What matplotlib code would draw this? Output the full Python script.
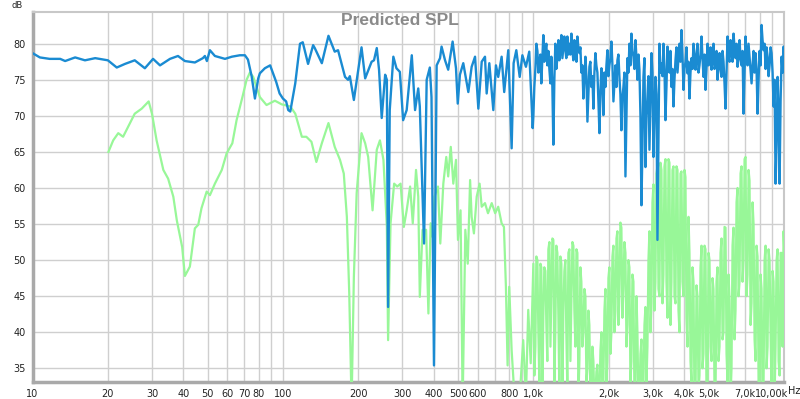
import matplotlib
matplotlib.use("Agg")
import matplotlib.pyplot as plt
import matplotlib.transforms as mtrans
import numpy as np

# --- data ----------------------------------------------------------------

# blue trace, 10 Hz .. 1 kHz
blue_lf_freq = [
    10.0, 10.7, 11.7, 12.9, 13.5, 14.8, 16.2, 17.8, 20.0, 21.7, 23.4, 25.6,
    28.1, 30.3, 32.3, 35.4, 38.1, 40.6, 44.5, 47.9, 48.8, 49.7, 51.1, 53.5,
    56.0, 58.7, 62.5, 67.3, 70.5, 72.5, 75.0, 77.3, 79.7, 80.9, 84.7, 88.9,
    94.0, 97.0, 100, 103, 105, 107, 112, 117, 120, 126, 132, 134, 143, 152,
    161, 166, 177, 182, 185, 192, 206, 213, 226, 231, 237, 242, 248, 256,
    260, 263, 267, 276, 284, 293, 302, 312, 327, 337, 347, 352, 366, 375,
    386, 392, 401, 411, 424, 430, 444, 457, 476, 491, 499, 509, 525, 550,
    567, 585, 603, 622, 641, 651, 667, 692, 709, 724, 747, 765, 794, 819,
    834, 855, 882, 904, 934, 963, 994,
]
blue_lf_db = [
    78.7, 78.1, 77.9, 77.9, 77.6, 78.1, 77.7, 78.0, 77.7, 76.7, 77.2, 77.7,
    76.6, 77.9, 77.0, 77.9, 78.3, 77.6, 77.4, 78.0, 78.3, 77.6, 79.1, 78.3,
    78.1, 77.9, 78.2, 78.4, 78.4, 77.8, 75.5, 72.4, 75.2, 75.9, 76.6, 77.0,
    74.7, 73.1, 72.4, 72.0, 70.8, 70.6, 74.5, 80.0, 80.2, 77.2, 79.8, 79.4,
    77.3, 81.1, 78.9, 79.1, 75.4, 75.0, 75.5, 72.2, 79.5, 75.2, 77.5, 77.7,
    79.4, 76.4, 69.7, 75.7, 75.0, 43.5, 70.8, 78.2, 76.6, 76.1, 69.4, 70.8,
    78.4, 70.8, 73.8, 71.3, 52.3, 75.0, 76.7, 72.6, 35.4, 77.0, 78.0, 79.6,
    77.7, 76.4, 80.3, 76.6, 71.7, 75.7, 77.3, 73.3, 76.8, 78.2, 71.0, 77.5,
    78.2, 73.1, 77.3, 70.8, 77.0, 75.4, 78.2, 73.3, 79.1, 65.5, 77.3, 79.1,
    75.4, 78.4, 76.8, 78.9, 68.3,
]

# green trace, 20 Hz .. 1 kHz
green_lf_freq = [
    20.1, 21.0, 22.0, 23.0, 24.1, 25.6, 27.3, 29.1, 30.0, 31.3, 33.3, 34.8,
    36.5, 37.7, 39.6, 40.6, 42.5, 44.5, 45.9, 47.3, 49.6, 51.1, 53.5, 57.0,
    59.6, 62.8, 65.3, 68.9, 71.6, 73.8, 76.1, 80.9, 86.0, 92.9, 98.8, 107,
    112, 119, 124, 130, 136, 143, 152, 161, 169, 175, 180, 184, 188, 192,
    197, 206, 213, 219, 228, 237, 244, 252, 260, 263, 269, 278, 286, 295,
    304, 312, 322, 330, 340, 347, 352, 361, 373, 381, 389, 396, 403, 416,
    425, 437, 449, 457, 468, 479, 491, 500, 512, 522, 535, 547, 559, 567,
    579, 594, 610, 622, 641, 659, 682, 704, 724, 747, 763, 777, 789, 801,
    819, 834, 855, 882, 911, 934, 954, 976,
]
green_lf_db = [
    65.0, 66.6, 67.6, 67.1, 68.5, 70.3, 71.0, 72.0, 70.3, 66.6, 62.5, 61.3,
    58.8, 55.5, 51.8, 47.8, 49.1, 54.4, 54.9, 57.2, 59.5, 59.0, 60.6, 62.5,
    64.8, 66.2, 69.4, 72.6, 75.0, 76.0, 75.4, 72.6, 71.5, 72.1, 71.6, 71.3,
    70.3, 67.1, 67.1, 66.4, 63.6, 66.2, 69.0, 65.7, 63.9, 62.0, 56.0, 45.4,
    30.0, 47.7, 59.3, 67.6, 66.2, 64.3, 56.9, 65.3, 66.6, 63.9, 54.6, 38.9,
    55.1, 60.6, 60.2, 60.6, 54.6, 56.9, 60.2, 55.1, 62.5, 58.8, 44.9, 54.2,
    54.2, 42.6, 55.1, 53.2, 58.8, 60.2, 52.3, 60.6, 64.3, 61.6, 65.7, 60.6,
    63.9, 52.8, 56.9, 30.0, 54.2, 49.5, 61.1, 56.0, 53.7, 58.8, 60.6, 57.4,
    57.9, 56.5, 57.9, 56.5, 57.4, 55.1, 54.6, 46.3, 35.4, 46.3, 37.5, 33.0,
    31.0, 31.0, 38.9, 31.0, 43.1, 35.7,
]

# 1 kHz .. 10 kHz, both traces share these frequencies
hf_freq = [
    1000, 1019, 1038, 1057, 1076, 1096, 1117, 1137, 1159, 1180, 1202, 1224,
    1247, 1270, 1294, 1318, 1342, 1367, 1393, 1419, 1445, 1472, 1499, 1527,
    1555, 1584, 1614, 1644, 1674, 1705, 1737, 1769, 1802, 1836, 1870, 1904,
    1940, 1976, 2012, 2050, 2088, 2127, 2166, 2206, 2247, 2289, 2332, 2375,
    2419, 2464, 2510, 2557, 2604, 2652, 2702, 2752, 2803, 2855, 2908, 2962,
    3017, 3073, 3130, 3188, 3248, 3308, 3369, 3432, 3496, 3561, 3627, 3694,
    3763, 3833, 3904, 3977, 4050, 4126, 4202, 4280, 4360, 4441, 4523, 4607,
    4693, 4780, 4869, 4960, 5052, 5146, 5241, 5338, 5438, 5539, 5642, 5746,
    5853, 5962, 6073, 6185, 6300, 6417, 6537, 6658, 6782, 6908, 7036, 7167,
    7300, 7436, 7574, 7714, 7858, 8004, 8152, 8304, 8458, 8615, 8775, 8938,
    9104, 9273, 9446, 9621, 9800, 9982, 10168,
]
blue_hf_db = [
    70.0, 76.6, 79.0, 77.5, 74.5, 81.2, 79.1, 77.0, 76.4, 78.2, 66.0, 80.0,
    78.0, 77.7, 81.2, 79.5, 79.1, 81.0, 80.0, 81.4, 77.7, 79.5, 81.0, 78.7,
    76.0, 72.4, 78.2, 69.2, 76.8, 74.0, 71.0, 78.7, 76.0, 67.6, 76.6, 70.1,
    74.0, 79.1, 77.0, 80.3, 72.0, 77.0, 77.7, 75.4, 68.0, 74.0, 61.6, 78.0,
    80.0, 81.4, 78.2, 80.5, 75.0, 76.4, 57.6, 75.4, 62.9, 72.6, 65.3, 78.7,
    64.3, 75.4, 52.8, 80.0, 77.3, 80.0, 69.4, 79.6, 76.0, 74.0, 71.3, 77.7,
    76.0, 80.0, 81.9, 73.6, 77.5, 75.9, 72.4, 78.0, 80.0, 76.4, 80.0, 77.0,
    81.0, 75.4, 73.6, 80.0, 77.5, 76.4, 80.0, 77.0, 75.0, 78.7, 75.4, 77.5,
    71.0, 81.0, 77.5, 79.1, 81.4, 78.0, 76.8, 80.5, 77.0, 70.3, 81.0, 77.0,
    78.2, 74.5, 79.0, 78.7, 70.3, 79.0, 82.6, 79.1, 76.5, 78.2, 77.0, 78.7,
    71.3, 60.6, 75.4, 60.6, 78.2, 79.6, 68.0,
]
green_hf_db = [
    49.5, 38.0, 50.0, 33.0, 49.0, 42.0, 48.5, 36.0, 52.5, 45.0, 52.8, 40.0,
    51.0, 32.0, 49.5, 43.0, 50.0, 32.0, 51.5, 44.0, 52.0, 38.0, 51.0, 36.0,
    47.0, 40.0, 45.0, 35.0, 41.0, 32.0, 36.0, 31.0, 35.5, 31.0, 40.0, 33.0,
    46.0, 36.0, 49.0, 40.0, 52.0, 43.0, 54.0, 45.0, 54.5, 46.0, 51.0, 41.0,
    49.0, 36.0, 47.0, 32.0, 40.0, 31.0, 39.0, 33.0, 43.5, 38.0, 54.0, 44.0,
    60.5, 47.0, 63.0, 45.0, 62.5, 48.0, 64.0, 42.0, 63.5, 47.0, 63.0, 44.0,
    62.5, 40.0, 62.3, 45.0, 61.5, 38.0, 51.0, 33.0, 47.0, 31.0, 45.0, 34.0,
    52.0, 37.0, 51.5, 32.0, 50.0, 36.0, 46.0, 31.0, 49.0, 38.0, 53.0, 40.0,
    54.5, 33.0, 44.5, 35.0, 54.5, 43.0, 60.0, 47.0, 63.0, 50.0, 64.3, 48.0,
    61.0, 44.0, 55.0, 36.0, 50.5, 31.0, 46.0, 33.0, 52.0, 38.0, 50.0, 32.0,
    47.0, 38.0, 51.5, 34.0, 51.0, 54.0, 44.0,
]

# in-between points of the 1k..10k range (the traces are very busy there)
hf_freq_mid = [
    1009, 1028, 1047, 1067, 1086, 1106, 1127, 1148, 1170, 1191, 1213, 1235,
    1259, 1282, 1306, 1330, 1354, 1380, 1406, 1432, 1458, 1486, 1513, 1541,
    1569, 1599, 1629, 1659, 1689, 1721, 1753, 1785, 1819, 1853, 1887, 1922,
    1958, 1994, 2031, 2069, 2107, 2147, 2186, 2226, 2268, 2310, 2354, 2397,
    2441, 2487, 2533, 2581, 2628, 2677, 2727, 2777, 2829, 2881, 2935, 2989,
    3045, 3101, 3159, 3217, 3278, 3339, 3400, 3464, 3528, 3594, 3660, 3728,
    3798, 3868, 3940, 4014, 4087, 4164, 4241, 4320, 4400, 4482, 4565, 4650,
    4736, 4824, 4914, 5006, 5099, 5194, 5289, 5387, 5488, 5590, 5694, 5799,
    5907, 6017, 6129, 6242, 6358, 6476, 6597, 6720, 6845, 6972, 7101, 7233,
    7367, 7505, 7644, 7785, 7931, 8078, 8227, 8381, 8536, 8695, 8856, 9021,
    9188, 9359, 9533, 9710, 9891, 10075,
]
blue_hf_mid_db = [
    74.0, 80.0, 76.0, 78.5, 78.0, 77.5, 80.0, 79.0, 74.5, 74.0, 75.0, 76.5,
    80.5, 79.0, 78.0, 81.0, 78.0, 78.5, 78.5, 79.0, 80.5, 77.5, 79.5, 79.5,
    77.0, 75.0, 75.5, 73.0, 77.5, 75.5, 76.0, 77.0, 72.0, 73.5, 74.5, 76.0,
    77.0, 75.5, 78.0, 77.0, 74.5, 74.0, 78.5, 73.0, 72.5, 76.0, 70.0, 76.0,
    77.0, 79.0, 76.5, 78.0, 78.5, 70.0, 66.0, 78.0, 70.0, 75.5, 72.0, 76.0,
    70.5, 73.0, 66.0, 76.0, 75.5, 76.5, 74.0, 77.0, 79.0, 76.5, 75.0, 79.5,
    78.0, 77.5, 78.5, 76.5, 79.5, 77.5, 76.0, 76.5, 78.0, 78.5, 76.0, 78.5,
    78.0, 78.5, 76.5, 77.0, 79.5, 78.0, 76.5, 79.0, 77.0, 76.5, 79.0, 74.5,
    76.0, 78.0, 80.5, 77.5, 79.5, 80.0, 78.0, 78.0, 79.0, 76.0, 78.5, 80.0,
    76.5, 77.0, 76.0, 76.5, 75.0, 77.0, 80.5, 80.0, 79.5, 75.5, 79.5, 76.0,
    75.0, 66.0, 71.0, 72.0, 76.0, 77.5,
]
green_hf_mid_db = [
    34.0, 50.5, 40.0, 49.5, 31.0, 49.0, 41.0, 51.5, 38.0, 53.0, 33.0, 52.0,
    42.0, 50.5, 31.0, 48.5, 40.0, 51.0, 36.0, 52.5, 43.0, 51.5, 31.0, 49.0,
    38.0, 46.0, 33.0, 43.0, 31.0, 38.0, 30.0, 34.5, 30.0, 37.5, 31.0, 43.0,
    33.0, 47.5, 37.0, 50.5, 40.0, 53.0, 41.0, 55.2, 42.0, 52.5, 38.0, 50.0,
    33.0, 48.0, 31.0, 45.0, 30.0, 37.0, 30.0, 41.0, 33.0, 50.0, 40.0, 58.0,
    43.0, 62.0, 46.0, 63.5, 44.0, 63.0, 47.0, 64.0, 41.0, 62.5, 45.0, 63.0,
    43.0, 62.0, 47.0, 62.5, 42.0, 56.0, 36.0, 49.0, 30.0, 46.5, 32.0, 49.0,
    35.0, 52.0, 31.0, 51.0, 38.0, 47.5, 32.0, 47.0, 36.0, 51.0, 39.0, 54.6,
    37.0, 48.0, 31.0, 52.0, 39.0, 58.0, 45.0, 62.0, 47.0, 64.0, 45.0, 62.5,
    41.0, 58.0, 39.0, 52.0, 33.0, 48.0, 30.0, 50.0, 35.0, 51.5, 40.0, 48.5,
    31.0, 50.0, 36.0, 51.0, 38.0, 50.0,
]

x_ticks = [10, 20, 30, 40, 50, 60, 70, 80, 100, 200, 300, 400, 500, 600, 800,
           1000, 2000, 3000, 4000, 5000, 7000, 10000]
x_labels = ["10", "20", "30", "40", "50", "60", "70", "80", "100", "200", "300",
            "400", "500", "600", "800", "1,0k", "2,0k", "3,0k", "4,0k", "5,0k",
            "7,0k", "10,00k"]
y_ticks = [35, 40, 45, 50, 55, 60, 65, 70, 75, 80]

# -------------------------------------------------------------------------


def merge(f_lo, d_lo, f_a, d_a, f_b, d_b):
    f = np.array(f_a + f_b, dtype=float)
    d = np.array(d_a + d_b, dtype=float)
    order = np.argsort(f)
    return np.r_[f_lo, f[order]], np.r_[d_lo, d[order]]


blue_freq, blue_db = merge(blue_lf_freq, blue_lf_db, hf_freq, blue_hf_db,
                           hf_freq_mid, blue_hf_mid_db)
green_freq, green_db = merge(green_lf_freq, green_lf_db, hf_freq, green_hf_db,
                             hf_freq_mid, green_hf_mid_db)

W, H = 800, 399
fig = plt.figure(figsize=(W / 100, H / 100), dpi=100)
ax = fig.add_axes([32.5 / W, 1 - 381.7 / H, (784 - 32.5) / W, (381.7 - 11.7) / H])

ax.plot(green_freq, green_db, color="#98f798", lw=1.6, solid_joinstyle="round", zorder=3)
ax.plot(blue_freq, blue_db, color="#1a8bd2", lw=1.7, solid_joinstyle="round", zorder=4)

ax.set_xscale("log")
ax.set_xlim(10, 10020)
ax.set_ylim(33.14, 84.44)

ax.set_xticks(x_ticks)
ax.set_xticklabels(x_labels)
minor = [m * 10 ** e for e in (1, 2, 3) for m in range(2, 10)]
ax.set_xticks(minor, minor=True)
ax.set_xticklabels([], minor=True)
ax.set_yticks(y_ticks)

ax.grid(True, which="both", axis="x", color="#cfcfcf", lw=1.0)
ax.grid(True, which="major", axis="y", color="#cfcfcf", lw=1.0)
ax.set_axisbelow(True)

ax.tick_params(axis="both", which="both", length=0, labelsize=7, colors="#222222")
ax.tick_params(axis="x", pad=5)
ax.tick_params(axis="y", pad=5)

# last x label sits left of its tick so that "Hz" fits after it
last = ax.get_xticklabels()[-1]
last.set_horizontalalignment("right")
last.set_transform(last.get_transform() + mtrans.ScaledTranslation(4 / 100, 0, fig.dpi_scale_trans))

for side in ("left", "bottom"):
    ax.spines[side].set_color("#a9a9a9")
    ax.spines[side].set_linewidth(2.5)
for side in ("top", "right"):
    ax.spines[side].set_color("#c8c8c8")
    ax.spines[side].set_linewidth(1.5)

fig.text(0.5, 1 - 13 / H, "Predicted SPL", ha="center", va="top",
         fontsize=12.5, fontweight="bold", color="#8a8a8a", family="Liberation Sans",
         zorder=6)
fig.text(12 / W, 1 - 5 / H, "dB", ha="left", va="center", fontsize=6, color="#222222")
fig.text(788 / W, 1 - 391 / H, "Hz", ha="left", va="center", fontsize=7, color="#222222")

fig.savefig("out.png", dpi=100)
